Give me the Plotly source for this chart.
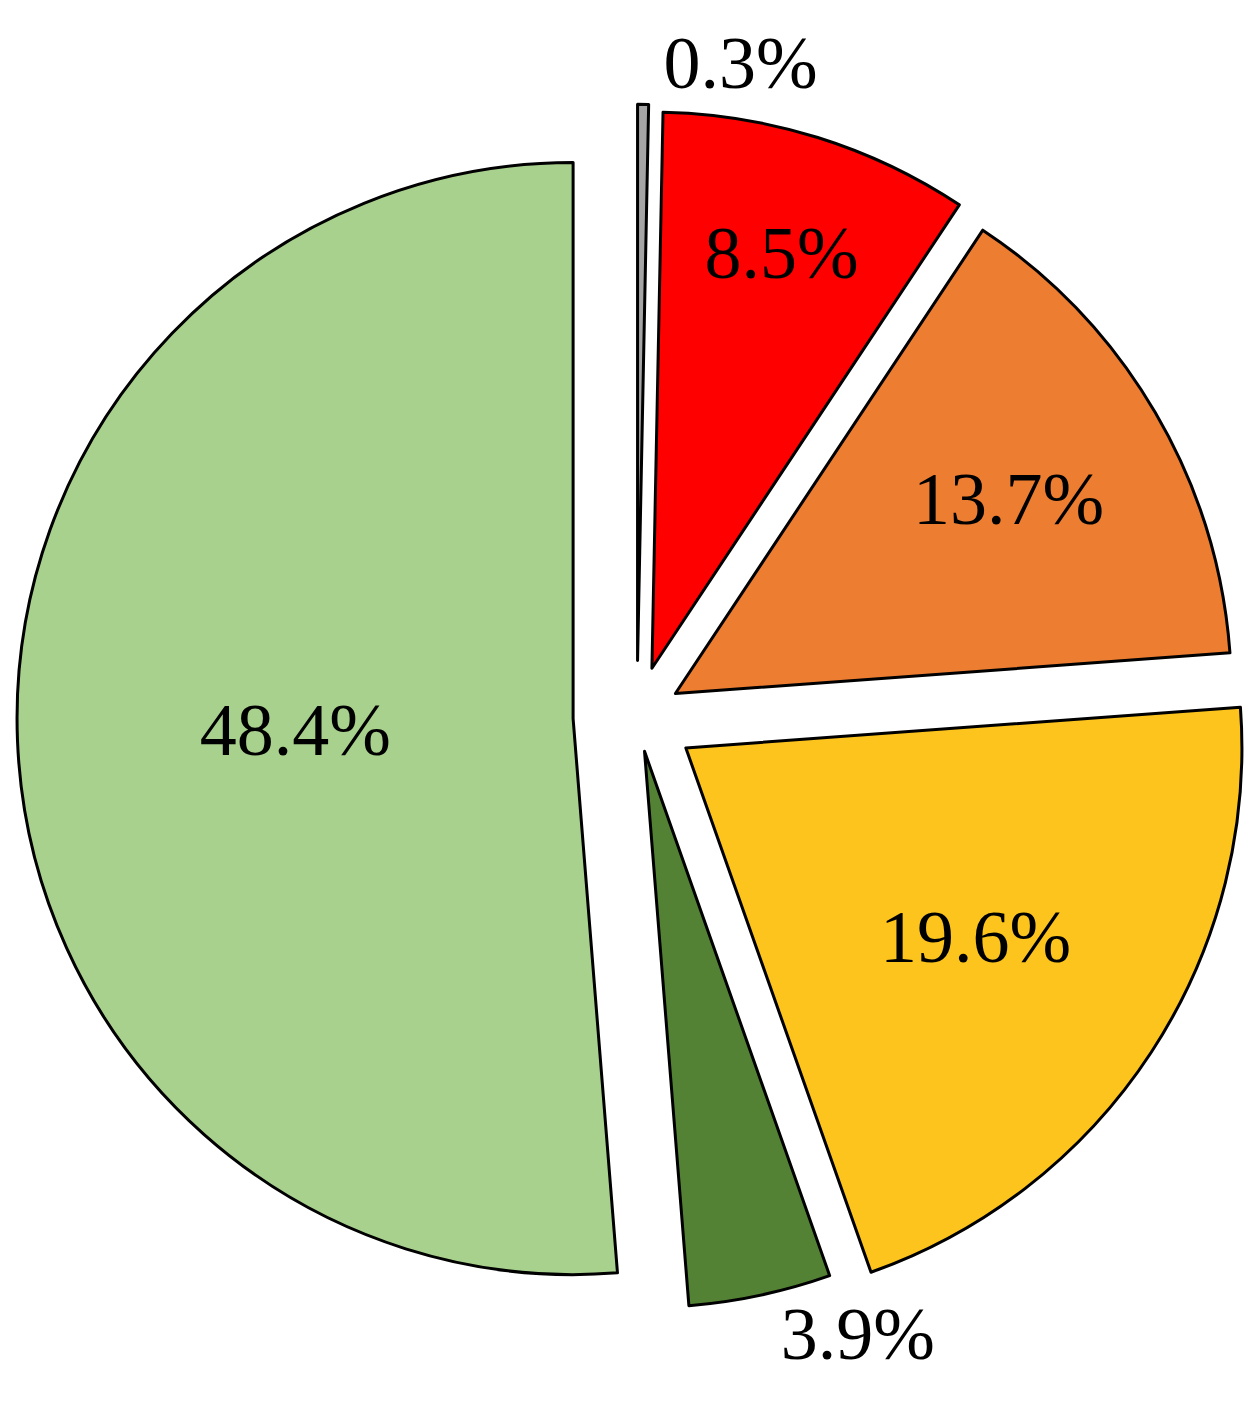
import plotly.graph_objects as go

categories = ["Gray", "Red", "Orange", "Yellow", "Dark green", "Light green"]
values = [0.3, 8.5, 13.7, 19.6, 3.9, 48.4]
labels_text = ["0.3%", "8.5%", "13.7%", "19.6%", "3.9%", "48.4%"]
colors = ["#A5A5A5", "#FF0000", "#ED7D31", "#FCC41C", "#548235", "#A9D18E"]
text_positions = ["outside", "inside", "inside", "inside", "outside", "inside"]
pulls = [0.10, 0.09, 0.08, 0.105, 0.065, 0.115]

fig = go.Figure(go.Pie(
    labels=categories,
    values=values,
    text=labels_text,
    textinfo="text",
    textposition=text_positions,
    insidetextorientation="horizontal",
    automargin=False,
    sort=False,
    direction="clockwise",
    rotation=0,
    pull=pulls,
    marker=dict(colors=colors, line=dict(color="black", width=3)),
    textfont=dict(family="Liberation Serif", size=74, color="black"),
    showlegend=False,
    hoverinfo="skip",
))

fig.update_layout(
    width=1260, height=1415,
    margin=dict(l=9, r=11, t=88, b=87, autoexpand=False),
    paper_bgcolor="white", plot_bgcolor="white",
    showlegend=False,
)

fig.write_html("out.html")
